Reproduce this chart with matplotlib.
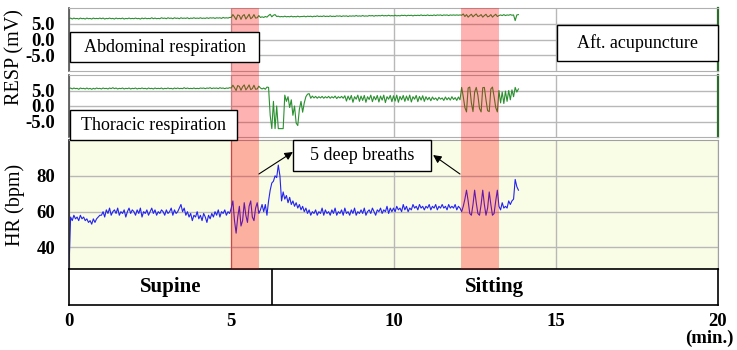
import numpy as np
import matplotlib
matplotlib.use("Agg")
import matplotlib.pyplot as plt
from matplotlib.patches import Rectangle
import matplotlib.transforms as mtransforms

# ---------------- data ----------------
sample_step = 0.05  # minutes between samples

abdominal = [
    6.6, 6.8, 6.5, 6.8, 6.6, 6.7, 6.5, 6.8, 6.6, 6.7, 6.5, 6.8, 6.6, 6.7, 6.5, 6.8, 6.6, 6.7, 6.6, 6.8,
    6.6, 6.8, 6.5, 6.7, 6.6, 6.8, 6.6, 6.7, 6.5, 6.8, 6.6, 6.7, 6.6, 6.8, 6.5, 6.7, 6.6, 6.8, 6.6, 6.7,
    6.6, 6.8, 6.6, 6.7, 6.5, 6.8, 6.6, 6.8, 6.6, 6.7, 6.6, 6.9, 6.6, 6.8, 6.6, 6.7, 6.6, 6.9, 6.7, 6.8,
    6.6, 6.9, 6.7, 6.8, 6.6, 6.9, 6.7, 6.8, 6.6, 6.9, 6.7, 6.8, 6.7, 6.9, 6.6, 6.8, 6.7, 6.9, 6.7, 6.8,
    6.7, 6.9, 6.7, 6.8, 6.7, 6.9, 6.7, 6.9, 6.8, 6.9, 6.7, 6.9, 6.8, 6.9, 6.7, 7.0, 6.8, 6.9, 6.8, 7.0,
    7.0, 7.9, 7.2, 6.3, 7.8, 7.6, 6.4, 7.5, 7.9, 6.5, 7.2, 8.0, 6.6, 7.0, 7.9, 6.8, 6.9, 7.6, 7.0, 7.2,
    7.0, 7.3, 7.1, 7.6, 8.0, 7.2, 7.7, 7.9, 7.3, 7.4, 7.2, 7.3, 7.2, 7.4, 7.2, 7.3, 7.2, 7.4, 7.2, 7.3,
    7.2, 7.4, 7.2, 7.3, 7.3, 7.4, 7.2, 7.4, 7.3, 7.4, 7.2, 7.4, 7.3, 7.5, 7.3, 7.4, 7.3, 7.5, 7.3, 7.4,
    7.3, 7.5, 7.3, 7.4, 7.3, 7.5, 7.4, 7.5, 7.3, 7.5, 7.4, 7.5, 7.3, 7.5, 7.4, 7.5, 7.4, 7.6, 7.4, 7.5,
    7.4, 7.6, 7.4, 7.5, 7.4, 7.6, 7.5, 7.6, 7.4, 7.6, 7.5, 7.6, 7.5, 7.7, 7.5, 7.6, 7.5, 7.7, 7.5, 7.6,
    7.5, 7.7, 7.5, 7.6, 7.5, 7.7, 7.6, 7.7, 7.5, 7.7, 7.6, 7.7, 7.5, 7.7, 7.6, 7.7, 7.6, 7.8, 7.6, 7.7,
    7.6, 7.8, 7.6, 7.7, 7.6, 7.8, 7.6, 7.8, 7.7, 7.8, 7.6, 7.8, 7.7, 7.8, 7.6, 7.8, 7.7, 7.8, 7.7, 7.8,
    7.7, 7.8, 7.7, 8.1, 7.3, 7.9, 7.1, 7.6, 8.0, 7.2, 7.7, 8.1, 7.3, 7.5, 7.9, 7.1, 7.6, 8.0, 7.2, 7.4,
    7.9, 7.1, 7.6, 8.0, 7.3, 7.6, 7.8, 7.6, 7.9, 7.6, 7.8, 7.7, 7.9, 7.7, 7.8, 6.0, 7.8, 7.9,
]

thoracic = [
    5.6, 5.8, 5.5, 5.8, 5.6, 5.7, 5.4, 5.8, 5.6, 5.7, 5.5, 5.8, 5.5, 5.7, 5.4, 5.7, 5.5, 5.8, 5.6, 5.7,
    5.5, 5.8, 5.6, 5.7, 5.5, 5.8, 5.6, 5.9, 5.6, 5.8, 5.5, 5.7, 5.6, 5.8, 5.5, 5.7, 5.6, 5.8, 5.5, 5.7,
    5.6, 5.8, 5.5, 5.7, 5.6, 5.8, 5.6, 5.7, 5.5, 5.8, 5.6, 5.7, 5.5, 5.8, 5.6, 5.7, 5.6, 5.8, 5.5, 5.7,
    5.6, 5.8, 5.6, 5.7, 5.5, 5.8, 5.6, 5.8, 5.6, 5.7, 5.6, 5.9, 5.6, 5.8, 5.6, 5.7, 5.6, 5.8, 5.6, 5.7,
    5.6, 5.8, 5.7, 5.8, 5.6, 5.8, 5.7, 5.9, 5.6, 5.8, 5.7, 5.8, 5.6, 5.9, 5.7, 5.8, 5.6, 5.8, 5.7, 5.9,
    5.8, 6.7, 5.9, 5.0, 6.6, 6.3, 5.1, 6.2, 6.8, 5.2, 5.9, 6.8, 5.3, 5.6, 6.7, 5.4, 5.5, 6.4, 5.8, 5.5,
    5.8, 5.4, 6.1, 6.0, -3.0, -7.3, 1.5, -7.3, 0.0, -7.3, -7.3, -7.3, -7.3, 3.5, 1.5, 3.0, -0.5, 2.0, -3.0, 0.0,
    -5.5, -6.3, -1.0, 1.5, -2.0, 1.0, 3.0, 3.8, 4.0, 2.5, 3.2, 2.6, 3.1, 2.5, 3.0, 2.6, 3.1, 2.5, 3.0, 2.6,
    3.1, 2.5, 3.0, 2.6, 3.2, 2.4, 3.0, 2.6, 3.1, 2.5, 3.3, 1.6, 3.2, 2.0, 3.4, 1.2, 3.0, 2.2, 3.5, 1.5,
    3.2, 1.8, 3.4, 1.2, 3.0, 2.1, 3.5, 1.4, 3.1, 2.0, 3.4, 1.3, 3.2, 1.9, 3.5, 1.1, 3.0, 2.2, 3.4, 1.4,
    3.3, 1.6, 3.5, 1.2, 3.1, 2.0, 3.4, 1.5, 3.2, 1.8, 3.5, 1.3, 3.0, 2.2, 3.4, 1.4, 3.1, 1.9, 3.3, 1.5,
    3.0, 2.0, 2.8, 1.7, 2.9, 2.1, 2.6, 1.8, 2.8, 2.2, 2.6, 1.8, 2.9, 2.0, 2.7, 1.9, 3.0, 2.1, 2.7, 1.8,
    2.9, 2.0, 6.0, 3.0, -0.5, -1.9, 5.8, 6.1, 1.0, -1.8, 4.5, 6.0, 3.5, -0.8, -1.9, 5.9, 6.0, 2.0, -1.5, -1.8,
    5.5, 6.1, 3.0, -0.5, -1.9, 5.0, 1.0, 4.5, 0.8, 4.8, 1.5, 5.0, 2.0, 5.2, 3.0, 6.0, 4.5, 5.5,
]

heart_rate = [
    29, 57, 55, 58, 56, 57, 55, 58, 56, 57, 55, 56, 54, 55, 53, 56, 54, 56, 57, 58,
    58, 60, 57, 61, 59, 62, 58, 60, 61, 59, 62, 58, 60, 59, 61, 57, 60, 62, 59, 61,
    60, 58, 61, 59, 62, 57, 60, 59, 61, 58, 60, 62, 59, 61, 58, 60, 59, 61, 60, 58,
    61, 59, 60, 62, 58, 61, 59, 60, 62, 64, 60, 62, 58, 60, 57, 59, 55, 58, 57, 60,
    56, 58, 55, 59, 57, 54, 58, 56, 59, 57, 60, 58, 61, 57, 60, 59, 61, 58, 60, 59,
    62, 66, 55, 48, 57, 63, 52, 55, 65, 58, 54, 63, 66, 57, 55, 62, 65, 59, 61, 64,
    60, 64, 58, 66, 72, 76, 77, 80, 79, 86, 80, 66, 71, 67, 69, 65, 68, 64, 66, 63,
    65, 62, 64, 61, 63, 60, 62, 59, 61, 58, 60, 59, 61, 58, 60, 59, 62, 58, 61, 59,
    60, 58, 61, 59, 62, 58, 60, 59, 61, 58, 62, 59, 60, 58, 61, 59, 62, 58, 60, 59,
    61, 59, 62, 58, 60, 61, 59, 62, 60, 58, 61, 60, 62, 59, 61, 60, 63, 59, 62, 60,
    62, 60, 63, 61, 62, 60, 64, 61, 63, 60, 62, 61, 64, 62, 63, 61, 64, 62, 63, 61,
    63, 62, 64, 61, 63, 62, 64, 61, 63, 62, 64, 62, 63, 61, 64, 62, 63, 62, 64, 61,
    63, 62, 60, 63, 67, 72, 66, 59, 58, 64, 72, 65, 59, 58, 64, 72, 64, 58, 62, 71,
    64, 58, 59, 66, 72, 63, 61, 65, 62, 63, 62, 66, 64, 66, 67, 78, 74, 72,
]

deep_breath_spans = [(5.0, 5.85), (12.08, 13.24)]
posture_change = 6.25
postures = ["Supine", "Sitting"]
resp_ticks = [-5.0, 0.0, 5.0]
hr_ticks = [40, 60, 80]
time_ticks = [0, 5, 10, 15, 20]

# ---------------- figure ----------------
W, H = 737, 350
SERIF = ["Liberation Serif", "DejaVu Serif"]
plt.rcParams["font.family"] = SERIF

fig = plt.figure(figsize=(W / 100, H / 100), dpi=100)


def px_rect(x0, y0, x1, y1):
    return [x0 / W, 1 - y1 / H, (x1 - x0) / W, (y1 - y0) / H]


ax1 = fig.add_axes(px_rect(69, 8, 718, 71))
ax2 = fig.add_axes(px_rect(69, 75, 718, 137))
ax3 = fig.add_axes(px_rect(69, 140, 718, 269))
ax4 = fig.add_axes(px_rect(69, 269, 718, 305))

grid_col = "#b8b8b8"
tick_font = dict(fontsize=13.5, fontweight="bold", family=SERIF)

for ax in (ax1, ax2, ax3, ax4):
    ax.set_xlim(time_ticks[0], time_ticks[-1])
    ax.set_xticks(time_ticks)
    ax.tick_params(axis="both", length=0)

for ax, series in ((ax1, abdominal), (ax2, thoracic)):
    t = np.arange(len(series)) * sample_step
    ax.plot(t, series, color="#2a9030", lw=0.8, zorder=2)
    ax.set_ylim(-10, 10)
    ax.set_yticks(resp_ticks)
    ax.set_yticklabels([f"{v:.1f}" for v in resp_ticks], **tick_font)
    ax.set_xticklabels([])
    ax.grid(True, color=grid_col, lw=1)
    ax.set_axisbelow(True)
    ax.tick_params(axis="y", pad=10)
    for s in ("top", "bottom"):
        ax.spines[s].set_color("#b0b0b0")
    ax.spines["left"].set_color("#505050")
    ax.spines["left"].set_linewidth(1.2)
    ax.spines["right"].set_color("#2d6b2d")
    ax.spines["right"].set_linewidth(1.6)

t_hr = np.arange(len(heart_rate)) * sample_step
ax3.set_facecolor("#fafde6")
ax3.plot(t_hr, heart_rate, color="#2323f0", lw=0.8, zorder=2)
ax3.set_ylim(28, 100)
ax3.set_yticks(hr_ticks)
ax3.set_yticklabels([str(v) for v in hr_ticks], **tick_font)
ax3.set_xticklabels([])
ax3.grid(True, color=grid_col, lw=1)
ax3.set_axisbelow(True)
ax3.tick_params(axis="y", pad=10)
for s in ("top", "right"):
    ax3.spines[s].set_color("#a0a0a0")
ax3.spines["left"].set_color("#202020")
ax3.spines["left"].set_linewidth(1.2)
ax3.spines["bottom"].set_color("black")

# posture strip
ax4.set_ylim(0, 1)
ax4.set_yticks([])
ax4.set_xticklabels([str(v) for v in time_ticks], **tick_font)
ax4.tick_params(axis="x", pad=6)
for s in ax4.spines.values():
    s.set_color("black")
    s.set_linewidth(1.2)
ax4.axvline(posture_change, color="black", lw=1.2)
bounds = [time_ticks[0], posture_change, time_ticks[-1]]
for name, a, b in zip(postures, bounds[:-1], bounds[1:]):
    ax4.text((a + b) / 2, 0.5, name, ha="center", va="center",
             fontsize=15, fontweight="bold", family=SERIF)

# deep-breathing shading, across the three panels
trans = mtransforms.blended_transform_factory(ax3.transData, fig.transFigure)
for s, e in deep_breath_spans:
    fig.add_artist(Rectangle((s, 1 - 269 / H), e - s, (269 - 8) / H, transform=trans,
                             facecolor="red", alpha=0.3, lw=0, zorder=1))
# thin darker edge on the first span inside the HR panel
ax3.axvline(deep_breath_spans[0][0], color="#c06060", lw=0.8, zorder=1)

# arrows to the "5 deep breaths" note
arrow_kw = dict(arrowstyle="-|>", color="black", lw=0.8, mutation_scale=12,
                shrinkA=0, shrinkB=0)
ax3.annotate("", xy=(6.9, 93.3), xytext=(deep_breath_spans[0][1], 81.0),
             arrowprops=arrow_kw)
ax3.annotate("", xy=(11.22, 91.6), xytext=(deep_breath_spans[1][0] - 0.03, 81.0),
             arrowprops=arrow_kw)


def note(x0, y0, x1, y1, text, size=13):
    fig.add_artist(Rectangle((x0 / W, 1 - y1 / H), (x1 - x0) / W, (y1 - y0) / H,
                             transform=fig.transFigure, facecolor="white",
                             edgecolor="black", lw=1, zorder=3))
    fig.text((x0 + x1) / 2 / W, 1 - (y0 + y1) / 2 / H, text, ha="center", va="center",
             fontsize=size, family=SERIF, zorder=4)


note(70, 32, 259, 62, "Abdominal respiration")
note(557, 25, 718, 61, "Aft. acupuncture")
note(70, 110, 237, 140, "Thoracic respiration")
note(293, 140, 431, 171, "5 deep breaths")

fig.text(15 / W, 1 - 57 / H, "RESP (mV)", rotation=90, ha="center", va="center",
         fontsize=14.5, family=SERIF)
fig.text(15 / W, 1 - 205 / H, "HR (bpm)", rotation=90, ha="center", va="center",
         fontsize=14.5, family=SERIF)
fig.text(734 / W, 1 - 338 / H, "(min.)", ha="right", va="center",
         fontsize=13.5, fontweight="bold", family=SERIF)

fig.savefig("out.png", dpi=100)
